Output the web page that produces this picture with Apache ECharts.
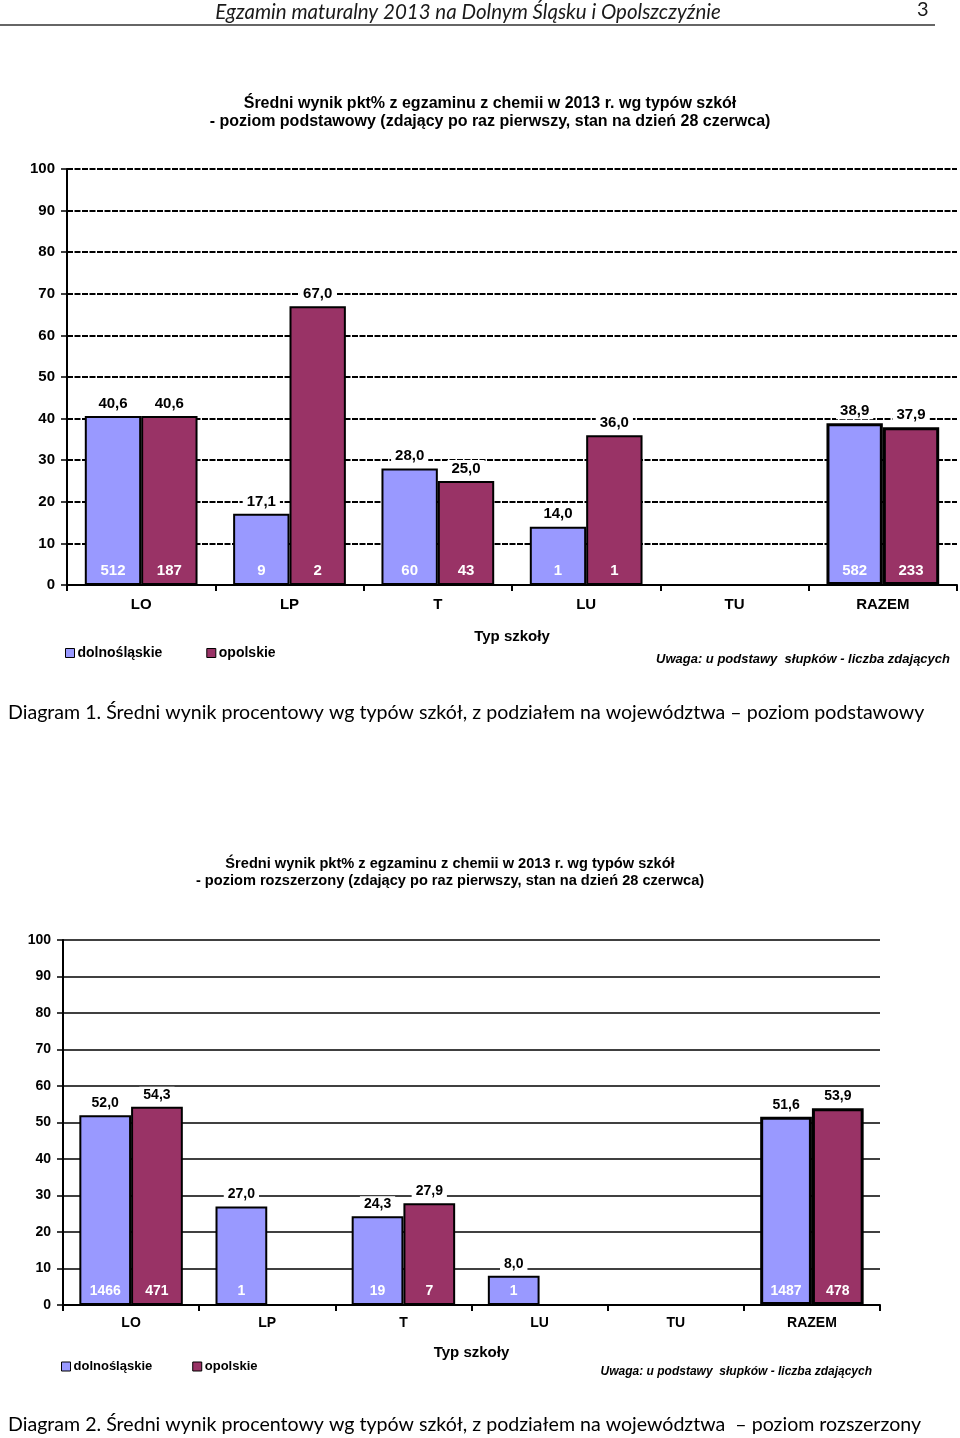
<!DOCTYPE html>
<html><head><meta charset="utf-8">
<script src="https://cdn.jsdelivr.net/npm/echarts@6/dist/echarts.min.js"></script>
<style>html,body{margin:0;padding:0;background:#fff}#c{width:960px;height:1438px}</style>
</head><body><div id="c"></div>
<script>
// ---- data ----
const categories = ['LO', 'LP', 'T', 'LU', 'TU', 'RAZEM'];
const seriesNames = ['dolnośląskie', 'opolskie'];
// chart 1 – poziom podstawowy
const pDol = [40.6, 17.1, 28.0, 14.0, null, 38.9];
const pOpo = [40.6, 67.0, 25.0, 36.0, null, 37.9];
const pDolN = [512, 9, 60, 1, null, 582];
const pOpoN = [187, 2, 43, 1, null, 233];
// chart 2 – poziom rozszerzony
const rDol = [52.0, 27.0, 24.3, 8.0, null, 51.6];
const rOpo = [54.3, null, 27.9, null, null, 53.9];
const rDolN = [1466, 1, 19, 1, null, 1487];
const rOpoN = [471, null, 7, null, null, 478];

const BLUE = '#9999FF', RED = '#993366';
const FONT = '"Liberation Sans", Arial, sans-serif';
const CAP = 'Lato, "Open Sans", sans-serif';
const fmt = v => v.toFixed(1).replace('.', ',');

function pair(g, vals, counts, name, color, stack, fs, lastBorder) {
  const last = vals.length - 1;
  return [{
    type: 'bar', name, xAxisIndex: g, yAxisIndex: g, stack: stack + g,
    barGap: '0%', barCategoryGap: '24%',
    data: vals.map((v, i) => v == null ? null : (i === last ? { value: v, itemStyle: { borderWidth: lastBorder } } : v)),
    itemStyle: { color, borderColor: '#000', borderWidth: 2 },
    label: { show: true, position: 'insideBottom', distance: 7, formatter: p => counts[p.dataIndex] == null ? '' : String(counts[p.dataIndex]),
      color: '#fff', fontWeight: 'bold', fontSize: fs, fontFamily: FONT },
    emphasis: { disabled: true }, z: 3
  }, {
    type: 'bar', name, xAxisIndex: g, yAxisIndex: g, stack: stack + g,
    barGap: '0%', barCategoryGap: '24%',
    data: vals.map(v => v == null ? null : 0),
    itemStyle: { color: 'rgba(0,0,0,0)', borderWidth: 0 },
    label: { show: true, position: 'top', distance: 4, formatter: p => fmt(vals[p.dataIndex]),
      color: '#000', fontWeight: 'bold', fontSize: fs, fontFamily: FONT,
      backgroundColor: '#fff', padding: [1, 4] },
    emphasis: { disabled: true }, z: 4
  }];
}

function xAx(g, gap, margin, fs) {
  return {
    type: 'category', gridIndex: g, data: categories,
    axisLine: { lineStyle: { color: '#000', width: 2 } },
    axisTick: { show: true, length: 6, lineStyle: { color: '#000', width: 2 } },
    axisLabel: { color: '#000', fontWeight: 'bold', fontSize: fs, fontFamily: FONT, margin },
    name: 'Typ szkoły', nameLocation: 'middle', nameGap: gap,
    nameTextStyle: { color: '#000', fontWeight: 'bold', fontSize: 15, fontFamily: FONT }
  };
}
function yAx(g, fs, lineType, lw) {
  return {
    type: 'value', gridIndex: g, min: 0, max: 100, interval: 10,
    axisLine: { show: true, lineStyle: { color: '#000', width: 2 } },
    axisTick: { show: true, length: 6, lineStyle: { color: '#000', width: 1.5 } },
    axisLabel: { color: '#000', fontWeight: 'bold', fontSize: fs, fontFamily: FONT, margin: 12 },
    splitLine: { show: true, lineStyle: { color: '#000', width: lw, type: lineType } }
  };
}

const chart = echarts.init(document.getElementById('c'));
chart.setOption({
  animation: false,
  backgroundColor: '#fff',
  grid: [
    { left: 67, right: 3, top: 169, bottom: 853 },
    { left: 63, right: 80, top: 940, bottom: 133 }
  ],
  xAxis: [xAx(0, 44, 12, 15), xAx(1, 40, 11, 14)],
  yAxis: [yAx(0, 15, [6, 1.5], 2), yAx(1, 14, 'solid', 1.6)],
  legend: [
    { left: 60, top: 641, data: seriesNames, icon: 'rect', itemWidth: 9, itemHeight: 9, itemGap: 44,
      itemStyle: { borderWidth: 1 },
      textStyle: { color: '#000', fontWeight: 'bold', fontSize: 14, fontFamily: FONT, padding: [0, 0, 0, -2] } },
    { left: 56, top: 1355, data: seriesNames, icon: 'rect', itemWidth: 9, itemHeight: 9, itemGap: 40,
      itemStyle: { borderWidth: 1 },
      textStyle: { color: '#000', fontWeight: 'bold', fontSize: 13, fontFamily: FONT, padding: [0, 0, 0, -2] } }
  ],
  series: [
    ...pair(0, pDol, pDolN, seriesNames[0], BLUE, 'd', 15, 3),
    ...pair(0, pOpo, pOpoN, seriesNames[1], RED, 'o', 15, 3),
    ...pair(1, rDol, rDolN, seriesNames[0], BLUE, 'd', 14, 3),
    ...pair(1, rOpo, rOpoN, seriesNames[1], RED, 'o', 14, 3)
  ],
  graphic: [
    { type: 'text', x: 468, y: 2, silent: true,
      style: { text: 'Egzamin maturalny 2013 na Dolnym Śląsku i Opolszczyźnie', align: 'center', fill: '#1a1a1a',
        font: 'italic 20.5px ' + CAP } },
    { type: 'text', x: 917, y: 0, silent: true, style: { text: '3', fill: '#1a1a1a', font: '20px ' + CAP } },
    { type: 'line', silent: true, shape: { x1: 0, y1: 25, x2: 935, y2: 25 }, style: { stroke: '#333', lineWidth: 1.5 } },
    { type: 'text', x: 490, y: 95, silent: true,
      style: { text: 'Średni wynik pkt% z egzaminu z chemii w 2013 r. wg typów szkół\n- poziom podstawowy (zdający po raz pierwszy, stan na dzień 28 czerwca)',
        align: 'center', lineHeight: 18, fill: '#000', font: 'bold 16px ' + FONT } },
    { type: 'text', x: 950, y: 653, silent: true,
      style: { text: 'Uwaga: u podstawy  słupków - liczba zdających', align: 'right', fill: '#000', font: 'italic bold 13px ' + FONT } },
    { type: 'text', x: 8, y: 703, silent: true,
      style: { text: 'Diagram 1. Średni wynik procentowy wg typów szkół, z podziałem na województwa – poziom podstawowy', fill: '#000', font: '19.6px ' + CAP } },
    { type: 'text', x: 450, y: 855, silent: true,
      style: { text: 'Średni wynik pkt% z egzaminu z chemii w 2013 r. wg typów szkół\n- poziom rozszerzony (zdający po raz pierwszy, stan na dzień 28 czerwca)',
        align: 'center', lineHeight: 17, fill: '#000', font: 'bold 14.6px ' + FONT } },
    { type: 'text', x: 872, y: 1366, silent: true,
      style: { text: 'Uwaga: u podstawy  słupków - liczba zdających', align: 'right', fill: '#000', font: 'italic bold 12px ' + FONT } },
    { type: 'text', x: 8, y: 1415, silent: true,
      style: { text: 'Diagram 2. Średni wynik procentowy wg typów szkół, z podziałem na województwa  – poziom rozszerzony', fill: '#000', font: '19.6px ' + CAP } }
  ]
});
</script></body></html>
